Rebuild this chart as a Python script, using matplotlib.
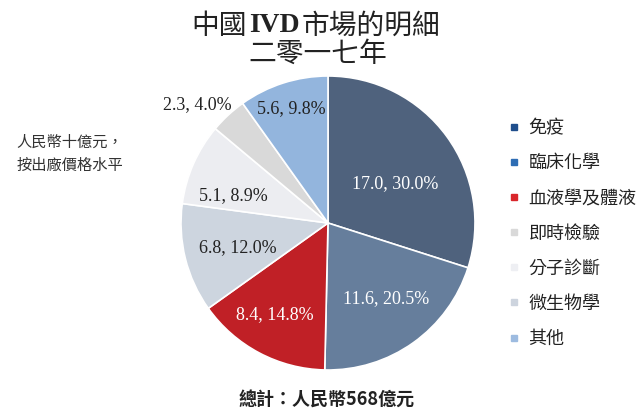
import matplotlib
matplotlib.use("Agg")
import matplotlib.pyplot as plt
from matplotlib.lines import Line2D
import numpy as np

# Data (clockwise from top)
slice_names = ["免疫", "臨床化學", "血液學及體液", "微生物學", "分子診斷", "即時檢驗", "其他"]
slice_values = [17.0, 11.6, 8.4, 6.8, 5.1, 2.3, 5.6]
slice_pcts = [30.0, 20.5, 14.8, 12.0, 8.9, 4.0, 9.8]
slice_colors = ["#4f627d", "#667e9c", "#c02026", "#cdd5df", "#ecedf1", "#d9d9d9", "#93b5dd"]
label_colors = ["white", "white", "white", "#222222", "#222222", "#222222", "#222222"]
# label layout: radius (fraction of R) and angle shift from wedge middle (deg)
label_radius = [0.53, 0.65, 0.72, 0.635, 0.67, 1.20, 0.82]
label_shift = [-6.0, 2.0, -2.5, 1.5, 7.5, 5.0, 0.0]

legend_names = ["免疫", "臨床化學", "血液學及體液", "即時檢驗", "分子診斷", "微生物學", "其他"]
legend_colors = ["#1f4e8c", "#2e6db4", "#d9262b", "#d9d9d9", "#eeeff3", "#cdd4de", "#9dbbe0"]

title_parts = ["中國", "IVD", "市場的明細"]
subtitle = "二零一七年"
unit_note = "人民幣十億元，\n按出廠價格水平"
total_note = "總計：人民幣568億元"

CJK = ["Noto Sans CJK TC", "DejaVu Sans"]

fig = plt.figure(figsize=(6.4, 4.09), dpi=100)
W, H = 640, 409
cx, cy, R = 328, 223, 147
ax = fig.add_axes([(cx - R) / W, (H - cy - R) / H, 2 * R / W, 2 * R / H])

wedges, _ = ax.pie(slice_values, colors=slice_colors, startangle=90, counterclock=False,
                   wedgeprops=dict(edgecolor="white", linewidth=1.2))
ax.set_xlim(-1, 1)
ax.set_ylim(-1, 1)
ax.set_aspect("equal")
ax.axis("off")

for w, v, p, c, r, s in zip(wedges, slice_values, slice_pcts, label_colors, label_radius, label_shift):
    ang = np.deg2rad((w.theta1 + w.theta2) / 2 + s)
    ax.text(r * np.cos(ang), r * np.sin(ang), f"{v:.1f}, {p:.1f}%", ha="center", va="center",
            fontsize=13, color=c, family="Liberation Serif", clip_on=False)

# Title line 1: CJK sans + bold serif "IVD", assembled side by side
renderer = fig.canvas.get_renderer()
tcol = "#222222"
title_fs = 20
styles = [dict(family=CJK), dict(family="Liberation Serif", fontweight="bold"), dict(family=CJK)]
texts = []
for part, st in zip(title_parts, styles):
    t = fig.text(0, 1 - 26 / H, part, ha="left", va="center", fontsize=title_fs, color=tcol, **st)
    texts.append(t)
widths = [t.get_window_extent(renderer).width for t in texts]
gap = 2
total = sum(widths) + gap * (len(widths) - 1)
x = 316 - total / 2
for t, wdt in zip(texts, widths):
    t.set_x(x / W)
    x += wdt + gap

fig.text(318 / W, 1 - 54 / H, subtitle, ha="center", va="center", fontsize=title_fs,
         family=CJK, color=tcol)

fig.text(70 / W, 1 - 154 / H, unit_note, ha="center", va="center", fontsize=11,
         family=CJK, style="italic", color="#333333", linespacing=1.45)

fig.text(327 / W, 1 - 399 / H, total_note, ha="center", va="center", fontsize=13,
         fontweight="bold", family=CJK, color="#222222")

handles = [Line2D([], [], marker="s", linestyle="none", markersize=4.5,
                  markerfacecolor=c, markeredgecolor=c) for c in legend_colors]
fig.legend(handles, legend_names, loc="upper left", bbox_to_anchor=(496 / W, 1 - 110 / H),
           frameon=False, prop={"family": CJK, "size": 13}, labelspacing=0.95,
           handletextpad=0.3, handlelength=1.0, borderpad=0, labelcolor="#222222")

fig.savefig("out.png", dpi=100)
